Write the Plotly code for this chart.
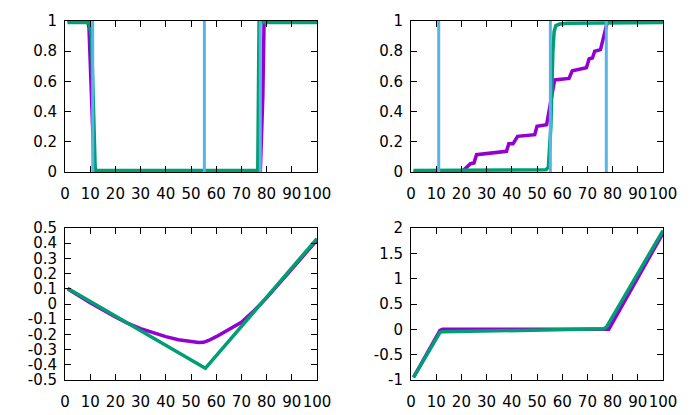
import plotly.graph_objects as go

violet = '#9400D3'
vert = '#009E73'
bleu = '#56B4E9'

# haut gauche
hg_x_violet = [1, 9, 9.5, 10.5, 11.5, 12.5, 77.5, 78.5, 79, 100]
hg_y_violet = [1, 1, 0.96, 0.5, 0.05, 0, 0, 0.5, 1, 1]
hg_x_vert = [1, 9.5, 10.5, 11, 11.5, 12, 76.5, 77, 100]
hg_y_vert = [0.99, 0.99, 0.9, 0.55, 0.15, 0.01, 0.01, 0.99, 0.99]

# haut droite
hd_x_violet = [1, 19.5, 21, 21.7, 23.6, 25, 26, 37.9, 38.8, 40.5, 42.3, 49.1, 50, 53.8, 54.6, 55.7,
               57, 62.7, 64, 69.6, 70.7, 72, 72.9, 75.2, 77.3, 78, 100]
hd_y_violet = [0, 0, 0.015, 0.026, 0.055, 0.06, 0.115, 0.137, 0.187, 0.187, 0.236, 0.247, 0.302, 0.313,
               0.39, 0.5, 0.61, 0.62, 0.67, 0.69, 0.75, 0.755, 0.8, 0.81, 0.97, 1, 1]
hd_x_vert = [1, 52, 53.5, 54.5, 55.5, 56.3, 56.8, 57.5, 59, 62, 100]
hd_y_vert = [0.01, 0.01, 0.015, 0.03, 0.3, 0.8, 0.93, 0.97, 0.98, 0.985, 0.99]

# lignes verticales bleues
bleu_x = [11, 55.3, 77.5]

# bas gauche
bg_x_violet = [1, 10, 20, 25, 30, 35, 40, 45, 50, 53, 55, 57, 60, 65, 70, 75, 80, 90, 100]
bg_y_violet = [0.1, 0.008, -0.085, -0.128, -0.162, -0.19, -0.215, -0.235, -0.248, -0.253, -0.252, -0.24,
               -0.215, -0.17, -0.12, -0.045, 0.04, 0.23, 0.42]
bg_x_vert = [1, 55.7, 100]
bg_y_vert = [0.104, -0.423, 0.43]

# bas droite
bd_x_violet = [1, 11.5, 12.5, 77.5, 78.5, 100]
bd_y_violet = [-0.95, -0.02, 0, 0, 0, 1.9]
bd_x_vert = [1, 11.5, 12.5, 76.5, 77.5, 100]
bd_y_vert = [-0.95, -0.06, -0.05, 0.01, 0.04, 1.95]

fig = go.Figure()

def courbe(x, y, couleur, xa, ya):
    fig.add_trace(go.Scatter(x=x, y=y, mode='lines', line=dict(color=couleur, width=3.5),
                             xaxis=xa, yaxis=ya, showlegend=False))

def barres(xs, xa, ya):
    bx, by = [], []
    for v in xs:
        bx += [v, v, None]
        by += [0, 1, None]
    fig.add_trace(go.Scatter(x=bx, y=by, mode='lines', line=dict(color=bleu, width=3),
                             xaxis=xa, yaxis=ya, showlegend=False))

courbe(hg_x_violet, hg_y_violet, violet, 'x', 'y')
courbe(hg_x_vert, hg_y_vert, vert, 'x', 'y')
barres(bleu_x, 'x', 'y')

courbe(hd_x_violet, hd_y_violet, violet, 'x2', 'y2')
courbe(hd_x_vert, hd_y_vert, vert, 'x2', 'y2')
barres(bleu_x, 'x2', 'y2')

courbe(bg_x_violet, bg_y_violet, violet, 'x3', 'y3')
courbe(bg_x_vert, bg_y_vert, vert, 'x3', 'y3')

courbe(bd_x_violet, bd_y_violet, violet, 'x4', 'y4')
courbe(bd_x_vert, bd_y_vert, vert, 'x4', 'y4')

W, H = 692, 415
gauche = [65 / W, 317 / W]
droite = [411 / W, 663 / W]
haut = [1 - 172 / H, 1 - 21 / H]
bas = [1 - 380 / H, 1 - 228 / H]

axe = dict(showgrid=False, zeroline=False, showline=True, linecolor='black', linewidth=1,
           mirror='ticks', ticks='inside', ticklen=6, tickcolor='black', tickwidth=1,
           automargin=False)

xaxe = dict(axe, range=[0, 100], tickmode='array', tickvals=list(range(0, 101, 10)), tickangle=0,
            ticklabelstandoff=8)
yaxe = dict(axe, ticklabelstandoff=4)

fig.update_layout(
    width=W, height=H,
    margin=dict(l=0, r=0, t=0, b=0),
    plot_bgcolor='white', paper_bgcolor='white',
    font=dict(family='DejaVu Sans', size=15, color='black'),
    xaxis=dict(xaxe, domain=gauche, anchor='y'),
    yaxis=dict(yaxe, domain=haut, anchor='x', range=[0, 1], tickvals=[0, 0.2, 0.4, 0.6, 0.8, 1]),
    xaxis2=dict(xaxe, domain=droite, anchor='y2'),
    yaxis2=dict(yaxe, domain=haut, anchor='x2', range=[0, 1], tickvals=[0, 0.2, 0.4, 0.6, 0.8, 1]),
    xaxis3=dict(xaxe, domain=gauche, anchor='y3'),
    yaxis3=dict(yaxe, domain=bas, anchor='x3', range=[-0.5, 0.5],
                tickvals=[-0.5, -0.4, -0.3, -0.2, -0.1, 0, 0.1, 0.2, 0.3, 0.4, 0.5],
                ticktext=['-0.5', '-0.4', '-0.3', '-0.2', '-0.1', '0', '0.1', '0.2', '0.3', '0.4', '0.5']),
    xaxis4=dict(xaxe, domain=droite, anchor='y4'),
    yaxis4=dict(yaxe, domain=bas, anchor='x4', range=[-1, 2],
                tickvals=[-1, -0.5, 0, 0.5, 1, 1.5, 2],
                ticktext=['-1', '-0.5', '0', '0.5', '1', '1.5', '2']),
)

fig.write_html("out.html", config={'displayModeBar': False},
               post_script="document.body.style.margin='0';")
